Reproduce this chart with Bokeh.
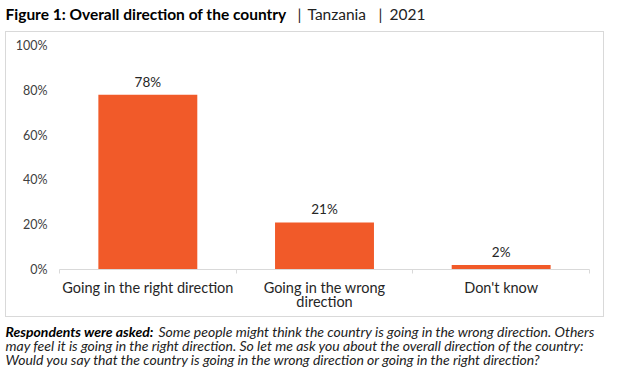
from bokeh.plotting import figure
from bokeh.layouts import column
from bokeh.embed import file_html
from bokeh.resources import INLINE
from bokeh.core.properties import value
from bokeh.models import (ColumnDataSource, Range1d, FixedTicker, LinearAxis,
                          PrintfTickFormatter, Label, LabelSet)

# ---- data ----
categories = ["Going in the right direction", "Going in the wrong direction", "Don't know"]
category_labels = ["Going in the right direction", "Going in the wrong\ndirection", "Don't know"]
values = [78, 21, 2]
value_labels = ["78%", "21%", "2%"]
y_ticks = [0, 20, 40, 60, 80, 100]

title_bold = "Figure 1: Overall direction of the country"
title_parts = ["|", "Tanzania", "|", "2021"]
caption_bold = "Respondents were asked:"
caption_lines = [
    "Some people might think the country is going in the wrong direction. Others",
    "may feel it is going in the right direction. So let me ask you about the overall direction of the country:",
    "Would you say that the country is going in the wrong direction or going in the right direction?",
]

FONT = "Lato"
BAR = "#F15A29"
TXT = "#262626"


def text_strip(w, h):
    f = figure(width=w, height=h, title=None, x_range=Range1d(0, 1), y_range=Range1d(0, 1),
               output_backend="svg", toolbar_location=None, frame_align=False,
               x_axis_location=None, y_axis_location=None, min_border=0,
               min_border_left=0, min_border_right=0, min_border_top=0, min_border_bottom=0)
    f.outline_line_color = None
    f.grid.visible = False
    f.background_fill_color = "white"
    f.border_fill_color = "white"
    return f


# ---- title strip ----
ft = text_strip(617, 31)
ft.add_layout(Label(x=5, y=17.5, x_units="screen", y_units="screen", text=title_bold,
                    text_font=FONT, text_font_style="bold", text_font_size="15.5px",
                    text_color="#000000", text_baseline="middle"))
for xx, part in zip([297, 307, 378, 389], title_parts):
    ft.add_layout(Label(x=xx, y=17.5, x_units="screen", y_units="screen", text=part,
                        text_font=FONT, text_font_size="15.5px",
                        text_color="#222222", text_baseline="middle"))

# ---- chart ----
n = len(categories)
centers = [i + 0.5 for i in range(n)]
bounds = list(range(n + 1))

p = figure(width=599, height=286, title=None,
           x_range=Range1d(0, n), y_range=Range1d(0, 100),
           output_backend="svg", toolbar_location=None, x_axis_location=None, frame_align=False,
           min_border_left=53, min_border_right=16, min_border_top=13, min_border_bottom=49,
           margin=(0, 0, 0, 5))
p.styles = {"border": "1px solid #d9d9d9"}
p.outline_line_color = None
p.xgrid.grid_line_color = None
p.ygrid.grid_line_color = None
p.background_fill_color = "white"
p.border_fill_color = "white"

ya = p.yaxis[0]
ya.ticker = FixedTicker(ticks=y_ticks)
ya.formatter = PrintfTickFormatter(format="%d%%")
ya.axis_line_color = None
ya.major_tick_line_color = None
ya.minor_tick_line_color = None
ya.major_tick_out = 0
ya.major_tick_in = 0
ya.major_label_standoff = 12
ya.major_label_text_font = FONT
ya.major_label_text_font_size = "12.5px"
ya.major_label_text_color = "#404040"

ta = LinearAxis(ticker=FixedTicker(ticks=bounds),
                major_tick_out=4, major_tick_in=0, major_tick_line_color="#d9d9d9",
                axis_line_color="#d9d9d9", minor_tick_line_color=None,
                major_label_text_font_size="0px", major_label_standoff=0,
                major_label_overrides={b: "" for b in bounds})
p.add_layout(ta, "below")

ca = LinearAxis(ticker=FixedTicker(ticks=centers), axis_line_color=None,
                major_tick_line_color=None, minor_tick_line_color=None,
                major_tick_out=0, major_tick_in=0, major_label_standoff=5,
                major_label_overrides=dict(zip(centers, category_labels)),
                major_label_text_font=FONT, major_label_text_font_size="14.5px",
                major_label_text_line_height=0.85,
                major_label_text_color=TXT)
p.add_layout(ca, "below")

src = ColumnDataSource(dict(x=centers, cat=categories, val=values, lab=value_labels))
p.vbar(x="x", top="val", width=0.56, source=src, fill_color=BAR, line_color=None)
p.add_layout(LabelSet(x="x", y="val", text="lab", source=src, y_offset=13,
                      text_align="center", text_baseline="middle",
                      text_font=value(FONT), text_font_size="13.5px", text_color=TXT))

# ---- caption strip ----
fc = text_strip(617, 52)
fc.add_layout(Label(x=5, y=38.3, x_units="screen", y_units="screen", text=caption_bold,
                    text_font=FONT, text_font_style="bold italic", text_font_size="14px",
                    text_color="#000000", text_baseline="middle"))
fc.add_layout(Label(x=158, y=38.3, x_units="screen", y_units="screen", text=caption_lines[0],
                    text_font=FONT, text_font_style="italic", text_font_size="14px",
                    text_color="#222222", text_baseline="middle"))
for yy, ln in zip([24.5, 10], caption_lines[1:]):
    fc.add_layout(Label(x=5, y=yy, x_units="screen", y_units="screen", text=ln,
                        text_font=FONT, text_font_style="italic", text_font_size="14px",
                        text_color="#222222", text_baseline="middle"))

layout = column(ft, p, fc, spacing=0)
open("out.html", "w").write(file_html(layout, INLINE))
